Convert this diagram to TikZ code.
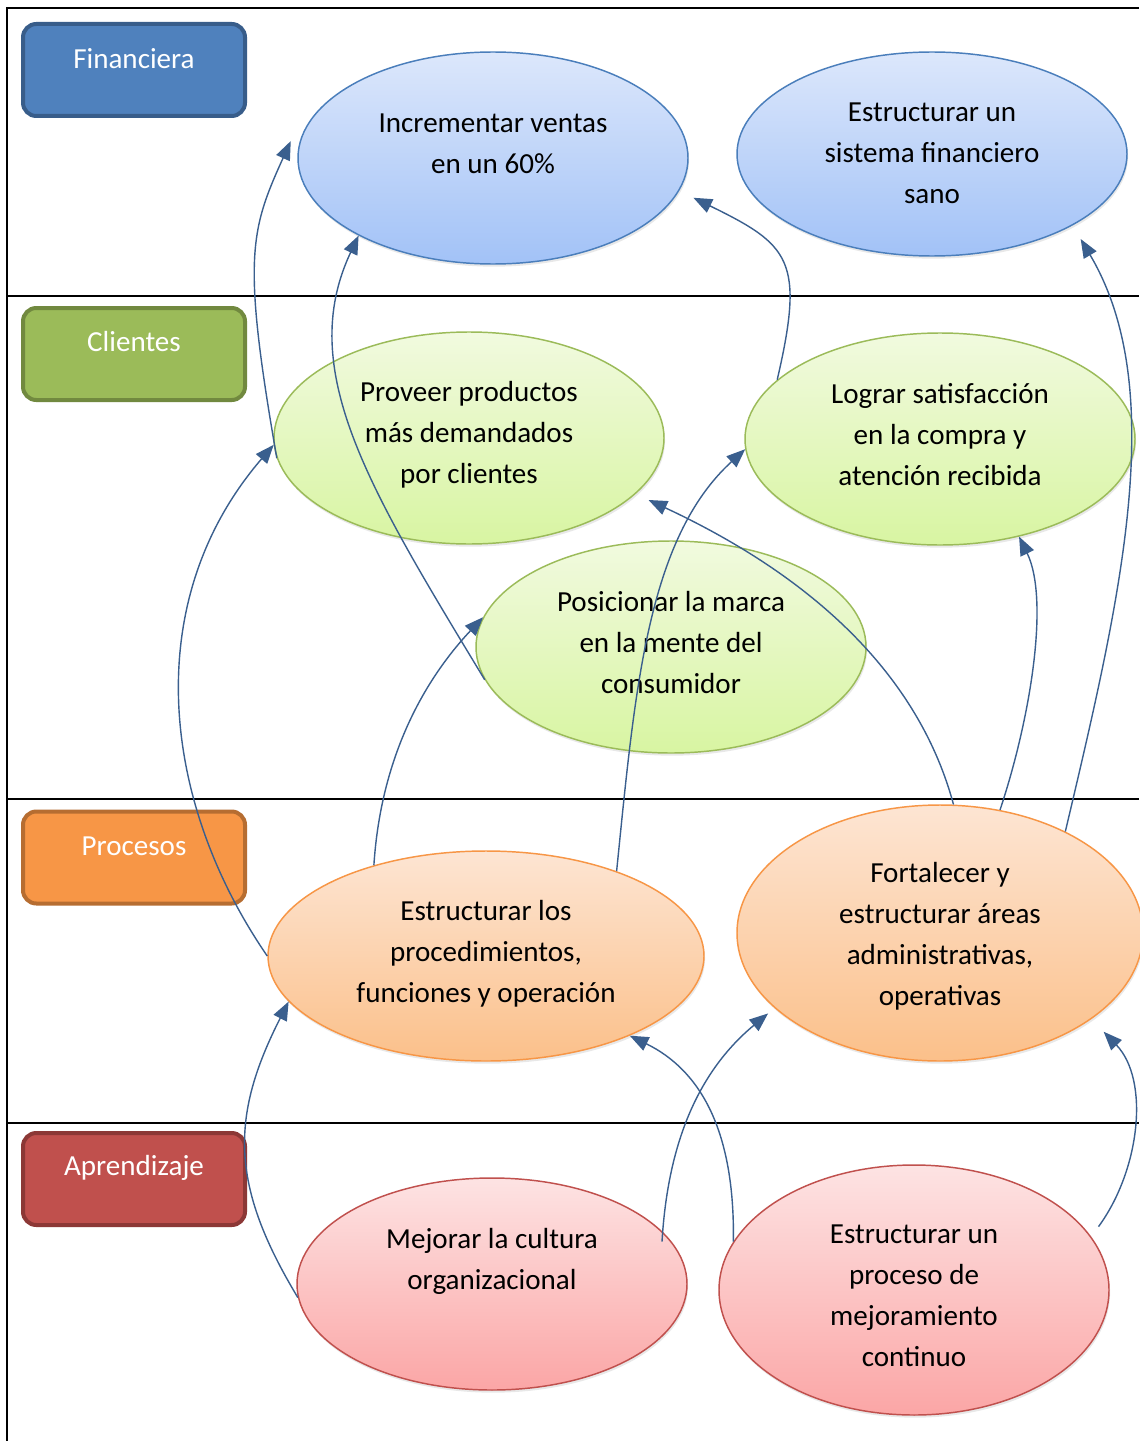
\documentclass[tikz,border=0pt]{standalone}
\usepackage{fontspec}
\setmainfont{Carlito}
\usetikzlibrary{shapes.geometric,arrows.meta,shadows}
\definecolor{arrowc}{HTML}{3A5F8E}
\definecolor{blueB}{HTML}{4A7EBB}\definecolor{blueT}{HTML}{DCE7FB}\definecolor{blueL}{HTML}{A2C2F7}
\definecolor{greenB}{HTML}{9BBB59}\definecolor{greenT}{HTML}{F1FADF}\definecolor{greenL}{HTML}{D8F5A2}
\definecolor{orangeB}{HTML}{F79646}\definecolor{orangeT}{HTML}{FDE5D3}\definecolor{orangeL}{HTML}{FBC08A}
\definecolor{redB}{HTML}{C0504D}\definecolor{redT}{HTML}{FDE3E3}\definecolor{redL}{HTML}{FBA6A6}
\definecolor{finF}{HTML}{4F81BD}\definecolor{finD}{HTML}{385D8A}
\definecolor{cliF}{HTML}{9BBB59}\definecolor{cliD}{HTML}{71893F}
\definecolor{proF}{HTML}{F79646}\definecolor{proD}{HTML}{B66D31}
\definecolor{aprF}{HTML}{C0504D}\definecolor{aprD}{HTML}{8C3836}
\begin{document}
\begin{tikzpicture}[x=0.75pt,y=-0.75pt,
  frame/.style={line width=1.5pt,black},
  ell/.style={ellipse,line width=1.1pt,inner sep=0pt,
    drop shadow={shadow xshift=0.8pt,shadow yshift=-2pt,opacity=0.18}},
  blueell/.style={ell,draw=blueB,top color=blueT,bottom color=blueL},
  greenell/.style={ell,draw=greenB,top color=greenT,bottom color=greenL},
  orangeell/.style={ell,draw=orangeB,top color=orangeT,bottom color=orangeL},
  redell/.style={ell,draw=redB,top color=redT,bottom color=redL},
  txt/.style={font=\fontsize{21.8}{30.75}\selectfont,align=center,inner sep=0pt},
  labbox/.style={rounded corners=10pt,line width=3pt,minimum width=166.5pt,minimum height=69pt},
  labtxt/.style={font=\fontsize{21.8}{26}\selectfont,text=white,inner sep=0pt},
  conn/.style={line width=1.05pt,draw=arrowc,-{Triangle[length=14pt,width=11pt]}}
]
\useasboundingbox (0,0) rectangle (1139,1441);
\fill[white] (0,0) rectangle (1139,1441);
% frame
\draw[frame] (7,1441) -- (7,8) -- (1139,8);
\draw[frame] (7,296) -- (1139,296);
\draw[frame] (7,799) -- (1139,799);
\draw[frame] (7,1123) -- (1139,1123);
% perspective boxes
\node[labbox,fill=finF,draw=finD] (bfin) at (134,70) {};
\node[labtxt] (tfin) at (134,59) {Financiera};
\node[labbox,fill=cliF,draw=cliD] (bcli) at (134,354) {};
\node[labtxt] (tcli) at (134,342) {Clientes};
\node[labbox,fill=proF,draw=proD] (bpro) at (134,857.5) {};
\node[labtxt] (tpro) at (134,846) {Procesos};
\node[labbox,fill=aprF,draw=aprD] (bapr) at (134,1179) {};
\node[labtxt] (tapr) at (134,1168) {Aprendizaje};
% ellipses
\node[blueell,minimum width=292.5pt,minimum height=159pt] (e1) at (493,158) {};
\node[blueell,minimum width=292.5pt,minimum height=153pt] (e2) at (932,154) {};
\node[greenell,minimum width=292.5pt,minimum height=159pt] (e3) at (469,438) {};
\node[greenell,minimum width=292.5pt,minimum height=159pt] (e4) at (940,439) {};
\node[greenell,minimum width=292.5pt,minimum height=159pt] (e5) at (671,647) {};
\node[orangeell,minimum width=327pt,minimum height=157.5pt] (e6) at (486,956) {};
\node[orangeell,minimum width=304.5pt,minimum height=192pt] (e7) at (940,933) {};
\node[redell,minimum width=292.5pt,minimum height=159pt] (e8) at (492,1284) {};
\node[redell,minimum width=292.5pt,minimum height=187.5pt] (e9) at (914,1290) {};
% texts
\node[txt] (t1) at (493,143.5) {Incrementar ventas\\en un 60\%};
\node[txt] (t2) at (932,153) {Estructurar un\\sistema financiero\\sano};
\node[txt] (t3) at (469,435) {Proveer productos\\más demandados\\por clientes};
\node[txt] (t4) at (940,434.5) {Lograr satisfacción\\en la compra y\\atención recibida};
\node[txt] (t5) at (671,643) {Posicionar la marca\\en la mente del\\consumidor};
\node[txt] (t6) at (486,954) {Estructurar los\\procedimientos,\\funciones y operación};
\node[txt] (t7) at (940,936) {Fortalecer y\\estructurar áreas\\administrativas,\\operativas};
\node[txt] (t8) at (492,1261.5) {Mejorar la cultura\\organizacional};
\node[txt] (t9) at (914,1295.5) {Estructurar un\\proceso de\\mejoramiento\\continuo};
% connectors
\draw[conn] (e3.186.7) .. controls (242,258) and (250,231) .. ([shift={(-9,0)}]e1.175);
\draw[conn] (e5.190) .. controls (370,490) and (295,370) .. (e1.210);
\draw[conn] (e4.160) .. controls (805,260) and (790,245) .. ([shift={(18,1)}]e1.-12);
\draw[conn] (e7.39) .. controls (1120,600) and (1170,390) .. ([shift={(17,9)}]e2.-30);
\draw[conn] (e7.64) .. controls (1030,720) and (1050,600) .. (e4.-51);
\draw[conn] (e7.84) .. controls (920,680) and (820,580) .. ([shift={(14,5)}]e3.-19);
\draw[conn] (e6.33) .. controls (635,690) and (647,539) .. (e4.183);
\draw[conn] (e6.141) .. controls (380,770) and (415,690) .. (e5.171);
\draw[conn] (e6.180) .. controls (160,800) and (140,600) .. (e3.182);
\draw[conn] (e8.184) .. controls (230,1185) and (230,1117) .. (e6.193);
\draw[conn] ([shift={(-8,2)}]e8.14) .. controls (668,1140) and (700,1070) .. ([shift={(-8,4)}]e7.205);
\draw[conn] (e9.165) .. controls (735,1130) and (700,1070) .. (e6.-29);
\draw[conn] ([shift={(12,-4)}]e9.19) .. controls (1140,1170) and (1150,1080) .. ([shift={(16,10)}]e7.-31);
\end{tikzpicture}
\end{document}
